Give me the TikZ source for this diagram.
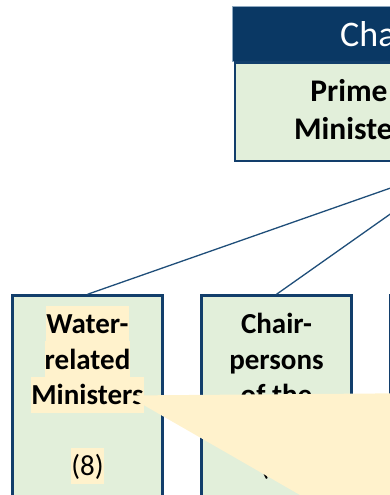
\documentclass[tikz,border=0pt]{standalone}
\usepackage{fontspec}
\setmainfont{Carlito}
\definecolor{navy}{HTML}{0A3864}
\definecolor{boxline}{HTML}{123E6B}
\definecolor{boxfill}{HTML}{E2EFDA}
\definecolor{hilite}{HTML}{FFF2CC}
\definecolor{connclr}{HTML}{1F4E79}
\definecolor{hdrline}{HTML}{8EA9C1}
\begin{document}
\begin{tikzpicture}[x=1pt,y=1pt,
  orgbox/.style={draw=boxline, line width=2.7pt, fill=boxfill, minimum width=150.4pt, minimum height=320pt, anchor=north, inner sep=0pt},
  boxtext/.style={font=\fontsize{29}{35}\selectfont\bfseries, anchor=base, inner sep=0pt, text height=28pt, text depth=8pt},
  numtext/.style={font=\fontsize{29}{35}\selectfont, anchor=base, inner sep=0pt, text height=28pt, text depth=8pt},
  hl/.style={fill=hilite},
  pmtext/.style={font=\fontsize{31.5}{38}\selectfont\bfseries, anchor=base, inner sep=0pt},
  hdrtext/.style={font=\fontsize{36}{40}\selectfont, text=white, anchor=base west, inner sep=0pt},
  connline/.style={draw=connclr, line width=1.3pt},
  callout/.style={fill=hilite, draw=none}
]
\useasboundingbox (0,0) rectangle (390,495);
% top box
\node[fill=navy, draw=hdrline, line width=0.6pt, anchor=north west, minimum width=460pt, minimum height=54.7pt, inner sep=0pt] (hdr) at (232.3,488.7) {};
\node[orgbox, minimum width=457pt, minimum height=98.8pt, anchor=north west] (pm) at (233.5,434) {};
\node[hdrtext] (hdrt) at (340,448) {Chair};
\node[pmtext] (pm1) at (349,393) {Prime};
\node[pmtext] (pm2) at (349,355) {Minister};
% lower boxes
\node[orgbox] (b1) at (87.5,200.7) {};
\node[orgbox] (b2) at (276.5,200.7) {};
\node[orgbox] (b3) at (465.5,200.7) {};
% connectors
\draw[connline] (pm.south) -- (b1.north);
\draw[connline] (pm.south) -- (b2.north);
\draw[connline] (pm.south) -- (b3.north);
% box 1 text
\node[boxtext, hl] (t11) at (87.5,161) {Water-};
\node[boxtext, hl] (t12) at (87.5,125.5) {related};
\node[boxtext, hl] (t13) at (87.5,90) {Ministers};
\node[numtext, hl] (t14) at (87.5,19) {(8)};
% box 2 text
\node[boxtext] (t21) at (276.5,161) {Chair-};
\node[boxtext] (t22) at (276.5,125.5) {persons};
\node[boxtext] (t23) at (276.5,90) {of the};
\node[numtext] (t24) at (276.5,19) {(3)};
% callout
\path[callout] (127,99.5) -- (400,101.7) -- (400,-20) -- (334.8,-20) -- cycle;
\end{tikzpicture}
\end{document}
